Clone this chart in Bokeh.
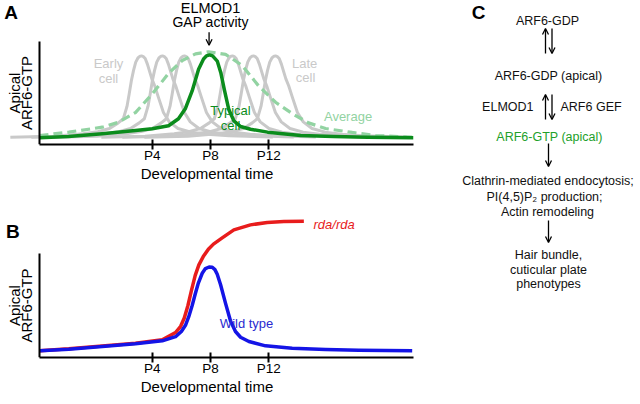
from math import pi
from bokeh.plotting import figure
from bokeh.models import Range1d, FixedTicker, Label, Arrow, OpenHead
from bokeh.layouts import row, column
from bokeh.embed import file_html
from bokeh.resources import INLINE
from bokeh.core.properties import value

FONT = "Liberation Sans"

# ---------------- data (x = postnatal day, y = apical ARF6-GTP, axis top = 100)
TICKS = [4, 8, 12]
TICK_LABELS = ["P4", "P8", "P12"]
X_START, X_END = -3.73, 21.92

# panel A: individual cells (one shape, shifted to each cell's peak)
GRAY_PEAKS = [3.27, 4.71, 6.22, 9.51, 10.95, 12.46]
GRAY_DX = [-9, -6, -4, -3, -2.2, -1.6, -1.25, -1.0, -0.85, -0.7, -0.55, -0.4, -0.25, -0.1, 0,
           0.1, 0.25, 0.4, 0.55, 0.7, 0.9, 1.15, 1.5, 1.9, 2.5, 3.4, 4.5, 6, 9]
GRAY_Y = [7, 8, 10.5, 12.5, 15.5, 21, 25, 37, 49, 62, 72, 80, 84, 85.8, 86,
          85.6, 83.5, 78, 71, 64, 57, 46, 31, 22, 15.5, 12, 10, 8.5, 7.3]

TYPICAL_X = [-3.73, -1.74, 0.57, 2.85, 4.0, 5.12, 5.80, 6.28, 6.74, 7.18, 7.52, 7.72, 7.93, 8.14,
             8.46, 8.70, 8.95, 9.25, 9.60, 10.06, 10.74, 11.91, 14.18, 16.44, 18.77, 21.92]
TYPICAL_Y = [6.5, 7.8, 10.4, 13.6, 15.3, 18.2, 25, 35, 52, 73, 83, 86, 87, 86,
             81, 70, 53, 34, 23, 17.5, 14.8, 12, 8.7, 7.8, 7, 6.5]

AVERAGE_X = [-3.73, -1.72, 0.57, 1.71, 2.85, 4.0, 5.12, 6.06, 6.97, 7.86, 9.03, 10.17, 11.29,
             12.46, 13.6, 14.72, 15.89, 17.72, 19.32, 21.92]
AVERAGE_Y = [8.7, 12, 16.8, 21.7, 31, 49, 69, 81.5, 88, 90, 87.5, 76.7, 57,
             41, 30, 21, 15.5, 11.7, 8.7, 7.1]

# panel B
WT_X = [-3.7, -1.72, 0.57, 2.85, 4.69, 5.6, 6.0, 6.28, 6.5, 6.74, 6.95, 7.15, 7.43, 7.65, 7.9,
        8.12, 8.3, 8.46, 8.69, 9.03, 9.37, 9.71, 10.06, 10.63, 11.77, 13.6, 15.89, 18.17, 21.83]
WT_Y = [6.4, 8, 10.6, 13.2, 16, 20, 25, 31, 39, 50, 61, 71, 81, 85.5, 87,
        86.8, 84.5, 80, 70, 52, 35, 25, 19.5, 15.4, 11.2, 8.9, 7.7, 7, 6.4]

RDA_X = [-3.7, -1.72, 0.57, 2.85, 4.69, 5.6, 5.95, 6.2, 6.45, 6.7, 6.95, 7.2, 7.5, 7.85, 8.2,
         8.8, 9.6, 10.74, 11.89, 13.03, 14.4]
RDA_Y = [6.6, 8.3, 11, 13.8, 17, 24, 30, 38, 50, 65, 79, 89, 97, 104, 109,
         115, 122.7, 127.5, 129.8, 130.8, 131]

# panel C: pathway
PATHWAY = ["ARF6-GDP", "ARF6-GDP (apical)", "ARF6-GTP (apical)",
           "Clathrin-mediated endocytosis;", "PI(4,5)P\u2082 production;", "Actin remodeling",
           "Hair bundle,", "cuticular plate", "phenotypes"]
GAP_LABEL = "ELMOD1"
GEF_LABEL = "ARF6 GEF"

GREEN = "#0b8c1c"
LIGHT_GREEN = "#92d3a2"
GRAY = "#c9c9c9"
BLUE = "#1414e6"
RED = "#e81c1c"

VIEW_START = -6.405   # left edge of the drawing area (panel letter and y title live there)


def base_fig(height, ytop, bottom):
    p = figure(width=420, height=height, x_range=Range1d(VIEW_START, X_END),
               y_range=Range1d(0, ytop), output_backend="svg", toolbar_location=None,
               min_border_left=0, min_border_right=7, min_border_top=0,
               min_border_bottom=bottom)
    p.outline_line_color = None
    p.xgrid.visible = False
    p.ygrid.visible = False
    xa = p.xaxis[0]
    xa.ticker = FixedTicker(ticks=TICKS)
    xa.bounds = (X_START, X_END)
    xa.major_label_overrides = {t: l for t, l in zip(TICKS, TICK_LABELS)}
    xa.minor_tick_line_color = None
    xa.axis_line_width = 2
    xa.major_tick_line_width = 2
    xa.major_tick_in = 5
    xa.major_tick_out = 5
    xa.major_label_standoff = -2
    xa.major_label_text_font = FONT
    xa.major_label_text_font_size = "13.5px"
    xa.major_label_text_color = "black"
    xa.axis_label = "Developmental time"
    xa.axis_label_standoff = -1
    xa.axis_label_text_font = FONT
    xa.axis_label_text_font_size = "15px"
    xa.axis_label_text_font_style = "normal"
    xa.axis_label_text_color = "black"
    ya = p.yaxis[0]
    ya.fixed_location = X_START
    ya.ticker = FixedTicker(ticks=[])
    ya.bounds = (0, 100)
    ya.axis_line_width = 2
    ya.major_tick_in = 0
    ya.major_tick_out = 0
    ya.major_tick_line_color = None
    ya.minor_tick_line_color = None
    ya.major_label_text_font_size = "0px"
    # y-axis title (two lines)
    for txt, xx in (("Apical", -5.42), ("ARF6-GTP", -4.60)):
        p.add_layout(Label(x=xx, y=50, text=txt, angle=pi / 2, text_align="center",
                           text_baseline="middle", text_font=FONT, text_font_size="15px",
                           text_color="black"))
    return p


def lab(p, x, y, text, color="black", size="13px", align="center", style="normal"):
    p.add_layout(Label(x=x, y=y, text=text, text_align=align, text_baseline="middle",
                       text_font=FONT, text_font_size=size, text_color=color,
                       text_font_style=style))


# ---------------- panel A
pA = base_fig(191, 139.8, 47)
pA.multi_line([[pk + dx for dx in GRAY_DX] for pk in GRAY_PEAKS],
              [GRAY_Y for _ in GRAY_PEAKS], line_color=GRAY, line_width=3, line_join="round")
pA.line(AVERAGE_X, AVERAGE_Y, line_color=LIGHT_GREEN, line_width=3.2, line_dash="9 5")
pA.line(TYPICAL_X, TYPICAL_Y, line_color=GREEN, line_width=3.5, line_join="round")
lab(pA, -5.68, 128.4, "A", size="19px", style="bold")
lab(pA, 1.0, 78.3, "Early", color=GRAY)
lab(pA, 1.0, 64.4, "cell", color=GRAY)
lab(pA, 14.45, 78.9, "Late", color=GRAY)
lab(pA, 14.52, 65.3, "cell", color=GRAY)
lab(pA, 17.43, 27.2, "Average", color=LIGHT_GREEN)
lab(pA, 9.37, 33, "Typical", color=GREEN)
lab(pA, 9.37, 18.4, "cell", color=GREEN)
lab(pA, 8.0, 132.8, "ELMOD1", size="14.5px")
lab(pA, 8.0, 118.7, "GAP activity", size="14px")
pA.add_layout(Arrow(x_start=7.9, y_start=109, x_end=7.9, y_end=96.3, line_width=1.3,
                    line_color="black",
                    end=OpenHead(size=6, line_width=1.3, line_color="black")))

# ---------------- panel B
pB = base_fig(211, 159.6, 45)
pB.line(RDA_X, RDA_Y, line_color=RED, line_width=3.5, line_join="round")
pB.line(WT_X, WT_Y, line_color=BLUE, line_width=3.5, line_join="round")
lab(pB, -5.55, 121.6, "B", size="19px", style="bold")
lab(pB, 15.06, 127.6, "rda/rda", color=RED, align="left", style="italic")
lab(pB, 8.64, 33, "Wild type", color="#2a2ad0", align="left")

# ---------------- panel C (diagram, pixel coordinates of the picture)
pC = figure(width=216, height=402, x_range=Range1d(420, 636), y_range=Range1d(402, 0),
            output_backend="svg", toolbar_location=None, min_border=0,
            x_axis_location=None, y_axis_location=None)
pC.outline_line_color = None
pC.xgrid.visible = False
pC.ygrid.visible = False
ys = [20.7, 75, 136, 180.7, 196, 211, 254, 269, 283.3]
xs = [547, 548, 549, 547.5, 544, 547, 548, 548, 548]
cols = ["#111111", "#111111", "#22a02a"] + ["#111111"] * 6
pC.text(x=xs, y=ys, text=PATHWAY, text_color=cols, text_align="center",
        text_baseline="middle", text_font=value(FONT), text_font_size="12.5px")
pC.text(x=[533], y=[106.7], text=[GAP_LABEL], text_color="#111111", text_align="right",
        text_baseline="middle", text_font=value(FONT), text_font_size="12.5px")
pC.text(x=[560], y=[106.7], text=[GEF_LABEL], text_color="#111111", text_align="left",
        text_baseline="middle", text_font=value(FONT), text_font_size="12.5px")
pC.text(x=[478], y=[11.7], text=["C"], text_color="black", text_align="center",
        text_baseline="middle", text_font=value(FONT), text_font_size="19px",
        text_font_style="bold")
for (x0, y0, x1, y1) in [(545, 53, 545, 28), (551.5, 28, 551.5, 53),
                         (545, 119, 545, 94), (551.5, 94, 551.5, 119),
                         (548, 143, 548, 166), (548, 220, 548, 242)]:
    pC.add_layout(Arrow(x_start=x0, y_start=y0, x_end=x1, y_end=y1, line_width=1.3,
                        line_color="black",
                        end=OpenHead(size=6, line_width=1.3, line_color="black")))

layout = row(column(pA, pB, spacing=0), pC, spacing=0)
open("out.html", "w").write(file_html(layout, INLINE))
